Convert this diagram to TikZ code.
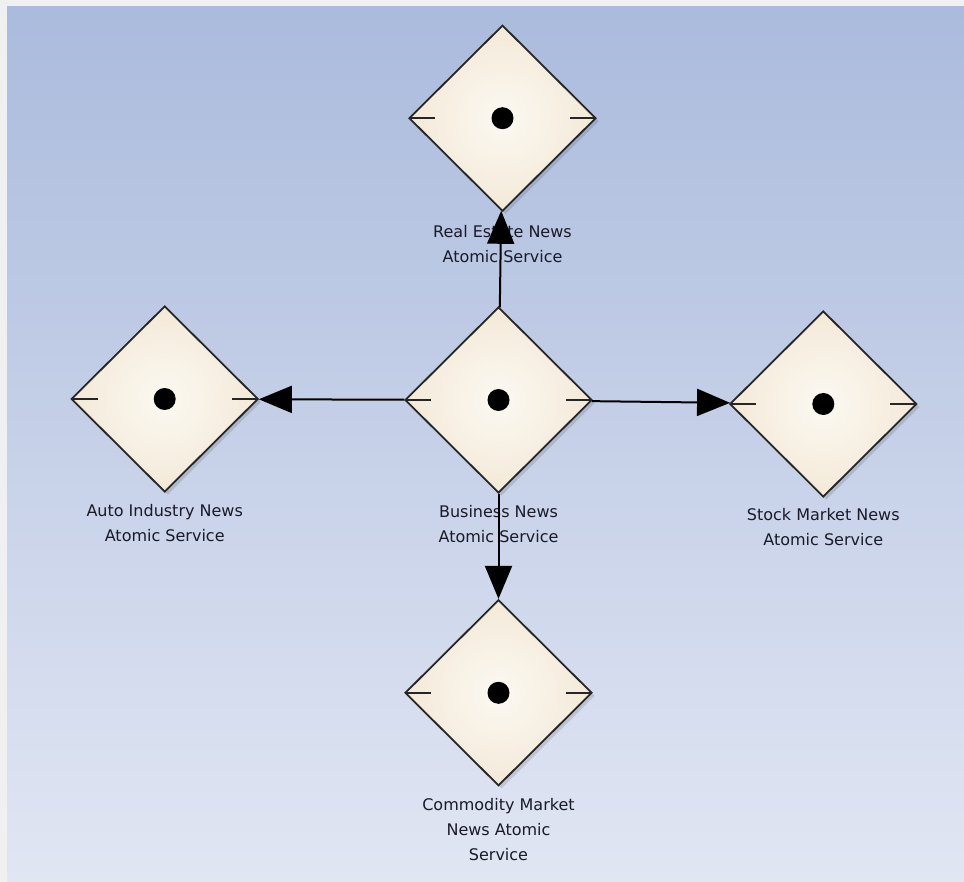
\documentclass[tikz,border=0pt]{standalone}
\usepackage{fontspec}
\usetikzlibrary{positioning,shapes.geometric,arrows.meta,shadows}

\newfontfamily\capfont{DejaVu Sans}
\definecolor{panetop}{HTML}{ABBBDD}
\definecolor{panebot}{HTML}{E1E6F3}
\definecolor{creamin}{HTML}{FCF9F2}
\definecolor{creamout}{HTML}{F3E9D8}
\definecolor{edge}{HTML}{262626}
\definecolor{ink}{HTML}{1A1A28}

\begin{document}
\begin{tikzpicture}[x=1pt, y=1pt,
    service/.style = {diamond, draw=edge, line width=1.8pt, inner sep=0pt,
        minimum width=187pt, minimum height=186pt,
        shading=radial, inner color=creamin, outer color=creamout,
        drop shadow={shadow xshift=3pt, shadow yshift=-3pt, opacity=0.12, fill=black},
        path picture={
            \draw[edge, line width=2pt] (path picture bounding box.west) -- ++(26pt,0);
            \draw[edge, line width=2pt] (path picture bounding box.east) -- ++(-26pt,0);
            \fill[black] (path picture bounding box.center) circle (11pt);
        }},
    caption/.style = {align=center, inner sep=0pt, text=ink,
        font=\capfont\fontsize{16}{25}\selectfont},
    link/.style = {draw=black, line width=2pt, -{Triangle[length=33pt, width=27pt]}}]

    % backdrop
    \useasboundingbox (0,0) rectangle (964,-882);
    \fill[gray!12] (0,0) rectangle (964,-882);
    \shade[top color=panetop, bottom color=panebot] (7,-7) rectangle (964,-882);

    % services
    \node[service] (biz) at (498.5,-400) {};
    \node[service] (estate) [above=94pt of biz, xshift=4pt] {};
    \node[service] (auto) [left=145pt of biz, yshift=1pt] {};
    \node[service] (stock) [right=136pt of biz, yshift=-4pt] {};
    \node[service] (goods) [below=105pt of biz] {};

    % names
    \node[caption] (bizname) [below=11pt of biz] {Business News\\Atomic Service};
    \node[caption] (estatename) [below=13pt of estate] {Real Estate News\\Atomic Service};
    \node[caption] (autoname) [below=11pt of auto] {Auto Industry News\\Atomic Service};
    \node[caption] (stockname) [below=10pt of stock] {Stock Market News\\Atomic Service};
    \node[caption] (goodsname) [below=11pt of goods] {Commodity Market\\News Atomic\\Service};

    \draw[link] (biz) -- (estate);
    \draw[link] (biz) -- (auto);
    \draw[link] (biz) -- (stock);
    \draw[link] (biz) -- (goods);
\end{tikzpicture}
\end{document}
